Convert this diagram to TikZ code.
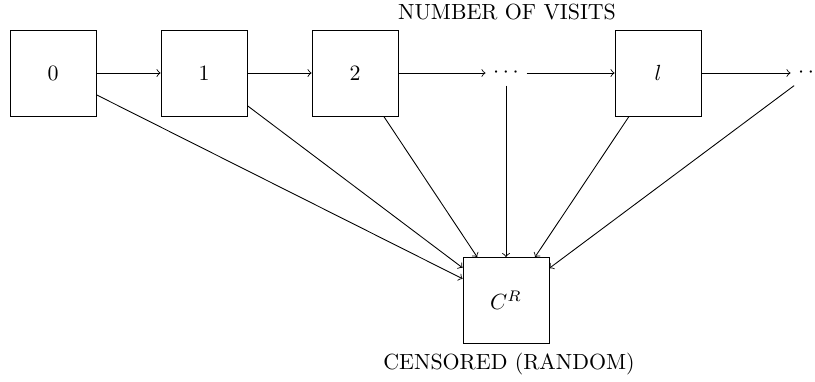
\documentclass[tikz,border=0pt]{standalone}
\usetikzlibrary{arrows}
\begin{document}
\begin{tikzpicture}[x=0.4566pt,y=-0.4566pt,
  statebox/.style={draw,minimum size=39.27pt,inner sep=0pt},
  dotsnode/.style={inner sep=3.33pt},
  flow/.style={->}]
\useasboundingbox (0,0) rectangle (815,381);
\node[statebox] (s0) at (53,73) {$0$};
\node[statebox] (s1) at (204,73) {$1$};
\node[statebox] (s2) at (355,73) {$2$};
\node[dotsnode] (d1) at (506,73) {$\cdots$};
\node[statebox] (sl) at (658,73) {$l$};
\node[dotsnode] (d2) at (811,73) {$\cdots$};
\node[statebox] (c) at (506,300.5) {$C^R$};
\node (top) at (507,12) {NUMBER OF VISITS};
\node (bot) at (509,364) {CENSORED (RANDOM)};
\draw[flow] (s0) -- (s1);
\draw[flow] (s1) -- (s2);
\draw[flow] (s2) -- (d1);
\draw[flow] (d1) -- (sl);
\draw[flow] (sl) -- (d2);
\draw[flow] (s0) -- (c);
\draw[flow] (s1) -- (c);
\draw[flow] (s2) -- (c);
\draw[flow] (d1) -- (c);
\draw[flow] (sl) -- (c);
\draw[flow] (d2) -- (c);
\end{tikzpicture}
\end{document}
